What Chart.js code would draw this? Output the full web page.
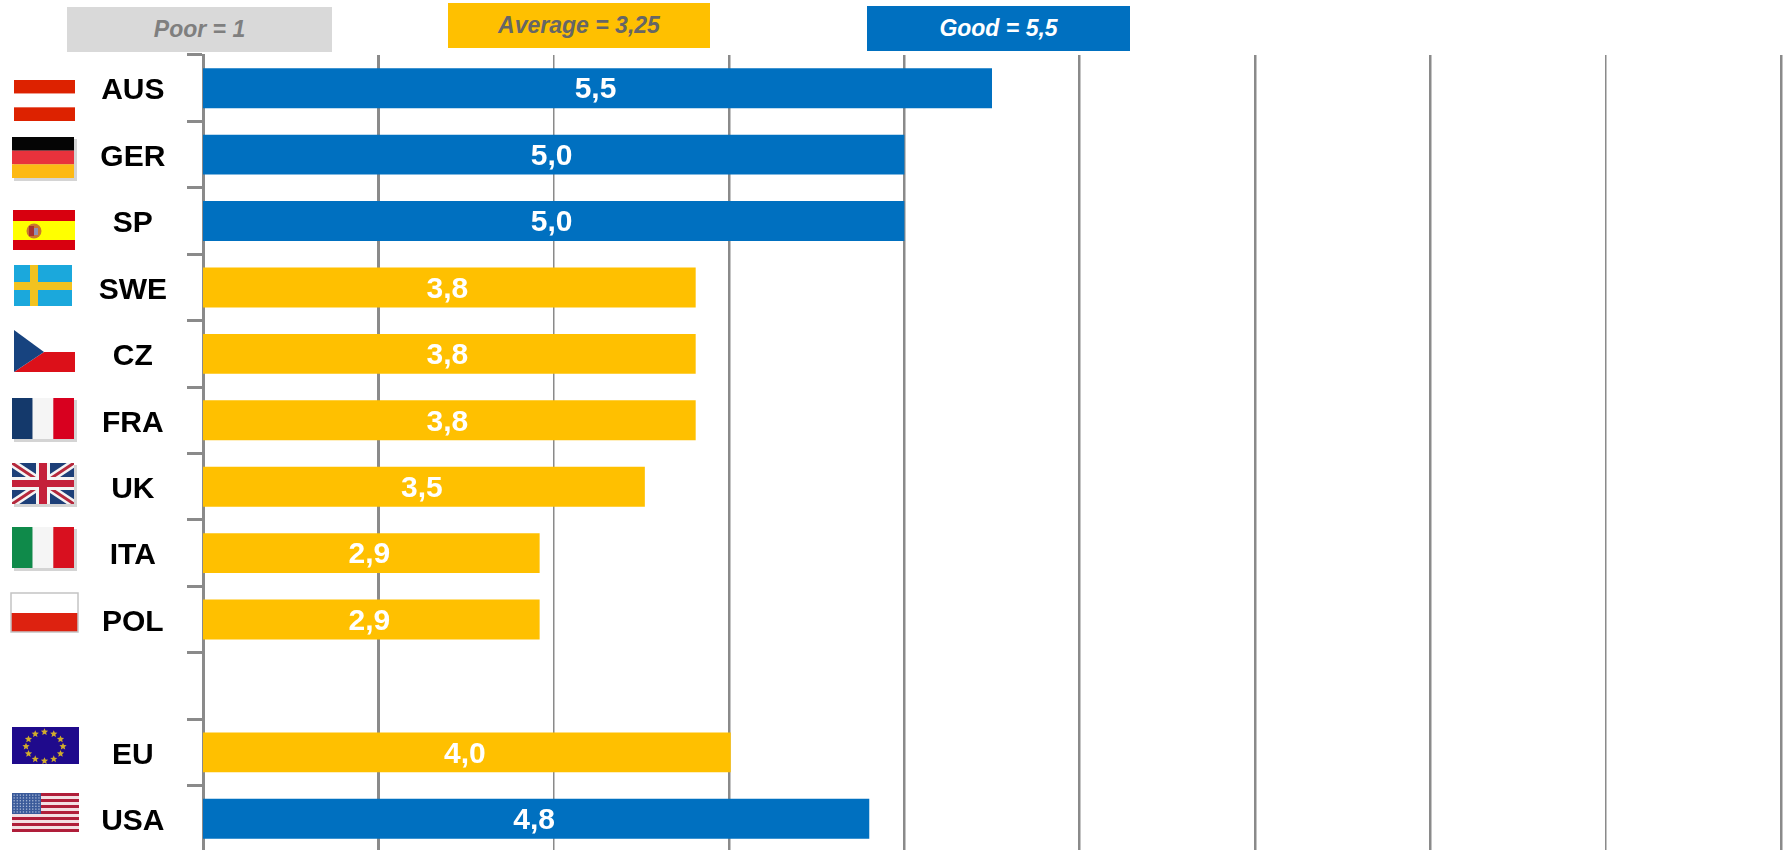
<!DOCTYPE html>
<html>
<head>
<meta charset="utf-8">
<title>Rating by country</title>
<script src="https://cdn.jsdelivr.net/npm/chart.js@4/dist/chart.umd.min.js"></script>
<style>
  html, body { margin: 0; padding: 0; background: #fff; overflow: hidden; width: 1789px; height: 850px; }
  canvas { position: absolute; left: 0; top: 0; }
  .key {
    position: absolute; height: 45px; text-align: center;
    font: italic bold 23px "Liberation Sans", Arial, sans-serif; line-height: 44px;
  }
</style>
</head>
<body>
<!-- taller than the window: the last category runs off the bottom edge like in the original -->
<canvas id="ratingChart" width="1789" height="890"></canvas>
<div class="key" style="left:67px;top:7px;width:265px;background:#d9d9d9;color:#7f7f7f">Poor = 1</div>
<div class="key" style="left:448px;top:3px;width:262px;background:#ffc000;color:#666666">Average = 3,25</div>
<div class="key" style="left:867px;top:6px;width:263px;background:#0070c0;color:#ffffff">Good = 5,5</div>
<script>
const categories = ["AUS", "GER", "SP", "SWE", "CZ", "FRA", "UK", "ITA", "POL", "", "EU", "USA"];
const scores = [5.5, 5.0, 5.0, 3.81, 3.81, 3.81, 3.52, 2.92, 2.92, null, 4.01, 4.8];
const axisTicks = [1, 2, 3, 4, 5, 6, 7, 8, 9, 10];

const BLUE = "#0070c0";
const GOLD = "#ffc000";
const LINE = "#8a8a8a";

// line weights differ a bit in the original
const gridWidths = [0, 3, 1.5, 2.5, 2.5, 2.5, 2.5, 2.5, 1.5, 2.5];

function bands(c, x, y, w, h, colors, vertical) {
  colors.forEach((col, i) => {
    c.fillStyle = col;
    if (vertical) c.fillRect(x + i * w / colors.length, y, w / colors.length, h);
    else c.fillRect(x, y + i * h / colors.length, w, h / colors.length);
  });
}

function shadow(c, x, y, w, h) {
  c.fillStyle = "#d4d4d4";
  c.fillRect(x + 2, y + 2, w + 1, h + 1);
}

function star(c, cx, cy, r) {
  c.beginPath();
  for (let i = 0; i < 10; i++) {
    const a = -Math.PI / 2 + i * Math.PI / 5;
    const rr = i % 2 ? r * 0.45 : r;
    c.lineTo(cx + rr * Math.cos(a), cy + rr * Math.sin(a));
  }
  c.closePath();
  c.fill();
}

const flags = {
  AUS: { box: [14, 80, 61, 41], draw(c, x, y, w, h) {
    bands(c, x, y, w, h, ["#dd2200", "#ffffff", "#dd2200"]);
  } },
  GER: { box: [12, 137, 62, 41], draw(c, x, y, w, h) {
    shadow(c, x, y, w, h);
    bands(c, x, y, w, h, ["#050505", "#e8323c", "#fdb913"]);
  } },
  SP: { box: [13, 210, 62, 40], draw(c, x, y, w, h) {
    c.fillStyle = "#d8000f";
    c.fillRect(x, y, w, h);
    c.fillStyle = "#ffff00";
    c.fillRect(x, y + 11, w, 19);
    c.fillStyle = "#c9772f";
    c.beginPath();
    c.arc(x + 21, y + 21, 7.5, 0, Math.PI * 2);
    c.fill();
    c.fillStyle = "#a8322e";
    c.fillRect(x + 16, y + 16, 5, 10);
    c.fillStyle = "#8f8fb0";
    c.fillRect(x + 21, y + 18, 4, 7);
  } },
  SWE: { box: [14, 265, 58, 41], draw(c, x, y, w, h) {
    c.fillStyle = "#1ba8dc";
    c.fillRect(x, y, w, h);
    c.fillStyle = "#f2c21f";
    c.fillRect(x + 16, y, 8, h);
    c.fillRect(x, y + 17, w, 8);
  } },
  CZ: { box: [14, 330, 61, 42], draw(c, x, y, w, h) {
    c.fillStyle = "#dc1019";
    c.beginPath();
    c.moveTo(x + 30, y + 22);
    c.lineTo(x + w, y + 22);
    c.lineTo(x + w, y + h);
    c.lineTo(x, y + h);
    c.closePath();
    c.fill();
    c.fillStyle = "#17437f";
    c.beginPath();
    c.moveTo(x, y);
    c.lineTo(x + 30, y + 22);
    c.lineTo(x, y + h);
    c.closePath();
    c.fill();
  } },
  FRA: { box: [12, 398, 62, 41], draw(c, x, y, w, h) {
    shadow(c, x, y, w, h);
    bands(c, x, y, w, h, ["#14396b", "#f5f5f5", "#d8001f"], true);
  } },
  UK: { box: [12, 463, 62, 41], draw(c, x, y, w, h) {
    shadow(c, x, y, w, h);
    c.fillStyle = "#1d3f78";
    c.fillRect(x, y, w, h);
    c.save();
    c.beginPath();
    c.rect(x, y, w, h);
    c.clip();
    [[8, "#f4f4f4"], [3, "#b5283c"]].forEach(([lw, col]) => {
      c.lineWidth = lw;
      c.strokeStyle = col;
      c.beginPath();
      c.moveTo(x, y);
      c.lineTo(x + w, y + h);
      c.moveTo(x + w, y);
      c.lineTo(x, y + h);
      c.stroke();
    });
    c.restore();
    c.fillStyle = "#f4f4f4";
    c.fillRect(x + 24, y, 14, h);
    c.fillRect(x, y + 14, w, 13);
    c.fillStyle = "#c4203a";
    c.fillRect(x + 27, y, 8, h);
    c.fillRect(x, y + 17, w, 7);
  } },
  ITA: { box: [12, 527, 62, 41], draw(c, x, y, w, h) {
    shadow(c, x, y, w, h);
    bands(c, x, y, w, h, ["#0f8a4a", "#f5f5f5", "#d8101f"], true);
  } },
  POL: { box: [11, 593, 67, 39], draw(c, x, y, w, h) {
    c.fillStyle = "#dd2210";
    c.fillRect(x, y + 20, w, h - 20);
    c.strokeStyle = "#c4c4c4";
    c.lineWidth = 1.5;
    c.strokeRect(x, y, w, h);
  } },
  EU: { box: [12, 727, 67, 37], draw(c, x, y, w, h) {
    c.fillStyle = "#1f0a8c";
    c.fillRect(x, y, w, h);
    c.fillStyle = "#d1ac2c";
    for (let i = 0; i < 12; i++) {
      const a = i * Math.PI / 6;
      star(c, x + w / 2 - 1 + 18.5 * Math.sin(a), y + h / 2 + 1 - 14.5 * Math.cos(a), 3.8);
    }
  } },
  USA: { box: [12, 793, 67, 39], draw(c, x, y, w, h) {
    for (let i = 0; i < 13; i++) {
      c.fillStyle = i % 2 ? "#f3dfe3" : "#b01e3a";
      c.fillRect(x, y + i * h / 13, w, h / 13);
    }
    c.fillStyle = "#3a5a9a";
    c.fillRect(x, y, 29, 21);
    c.fillStyle = "#a9b8d6";
    for (let r = 0; r < 7; r++) {
      for (let k = 0; k < 9; k++) c.fillRect(x + 1.5 + k * 3.1, y + 1.5 + r * 2.8, 1.3, 1.3);
    }
  } }
};

const flagPlugin = {
  id: "flags",
  afterDraw(chart) {
    const c = chart.ctx;
    categories.forEach(name => {
      const flag = flags[name];
      if (!flag) return;
      const [x, y, w, h] = flag.box;
      flag.draw(c, x, y, w, h);
    });
  }
};

// country names sit a little below the middle of their band
const nudgeLabels = {
  id: "nudgeLabels",
  beforeDraw(chart) {
    const y = chart.scales.y;
    y.getLabelItems().forEach((item, i) => {
      item.options.translation[1] = y.getPixelForTick(i) + 3;
    });
  }
};

// white value inside each bar, comma decimals
const valueLabels = {
  id: "valueLabels",
  afterDatasetsDraw(chart) {
    const c = chart.ctx;
    c.save();
    c.fillStyle = "#ffffff";
    c.font = 'bold 30px "Liberation Sans", Arial, sans-serif';
    c.textAlign = "center";
    c.textBaseline = "middle";
    chart.getDatasetMeta(0).data.forEach((bar, i) => {
      if (scores[i] === null) return;
      // bars start at the left edge of the plot, the axis does not begin at 0
      const mid = (bar.x + chart.chartArea.left) / 2 - 2;
      c.fillText(scores[i].toFixed(1).replace(".", ","), mid, bar.y + 2);
    });
    c.restore();
  }
};

new Chart(document.getElementById("ratingChart").getContext("2d"), {
  type: "bar",
  data: {
    labels: categories,
    datasets: [{
      data: scores,
      backgroundColor: ctx => (ctx.raw >= 4.4 ? BLUE : GOLD),
      barPercentage: 0.6,
      categoryPercentage: 1
    }]
  },
  plugins: [nudgeLabels, valueLabels, flagPlugin],
  options: {
    indexAxis: "y",
    responsive: false,
    animation: false,
    layout: { padding: { top: 55, right: 8, bottom: 9, left: 0 } },
    plugins: { legend: { display: false }, tooltip: { enabled: false } },
    scales: {
      x: {
        min: axisTicks[0],
        max: axisTicks[axisTicks.length - 1],
        afterBuildTicks: scale => { scale.ticks = axisTicks.map(v => ({ value: v })); },
        border: { display: false },
        grid: { color: LINE, lineWidth: ctx => gridWidths[ctx.index], drawTicks: false },
        ticks: { display: false }
      },
      y: {
        afterFit: scale => { scale.width = 203; },
        border: { color: LINE, width: 3 },
        grid: {
          drawOnChartArea: false,
          tickLength: 16,
          tickColor: LINE,
          tickWidth: 3
        },
        ticks: {
          autoSkip: false,
          crossAlign: "center",
          padding: 20,
          color: "#000000",
          font: { family: '"Liberation Sans", Arial, sans-serif', size: 30, weight: "bold" }
        }
      }
    }
  }
});
</script>
</body>
</html>
